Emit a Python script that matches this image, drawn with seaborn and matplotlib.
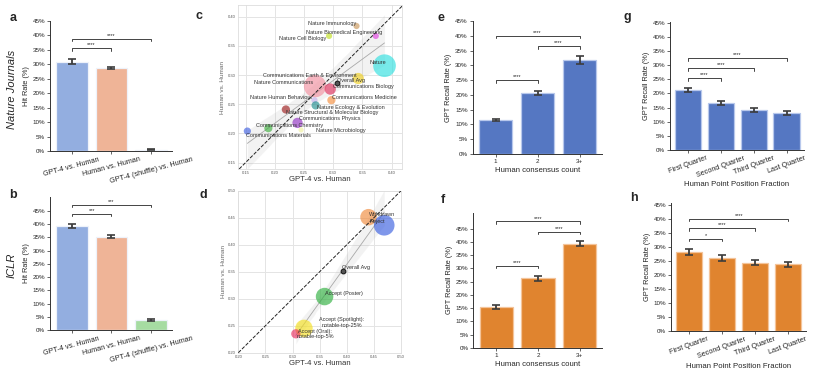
import numpy as np
import pandas as pd
import matplotlib
matplotlib.use("Agg")
import matplotlib.pyplot as plt
from matplotlib.ticker import FuncFormatter, MultipleLocator
import seaborn as sns

# ---------------- data ----------------
hit_cats = ["GPT-4 vs. Human", "Human vs. Human", "GPT-4 (shuffle) vs. Human"]
nature_hit = [30.9, 28.7, 0.4]
nature_hit_err = [0.7, 0.4, 0.2]
iclr_hit = [39.3, 35.3, 3.9]
iclr_hit_err = [0.9, 0.5, 0.4]

journals = ["Nature Immunology", "Nature Biomedical Engineering", "Nature Cell Biology",
            "Nature", "Communications Earth & Environment", "Nature Communications",
            "Communications Biology", "Communications Medicine", "Nature Human Behaviour",
            "Nature Ecology & Evolution", "Nature Structural & Molecular Biology",
            "Communications Physics", "Communications Chemistry", "Nature Microbiology",
            "Communications Materials"]
journal_gpt = [0.340, 0.373, 0.293, 0.388, 0.343, 0.269, 0.295, 0.297, 0.268,
               0.270, 0.219, 0.239, 0.189, 0.245, 0.153]
journal_human = [0.384, 0.367, 0.367, 0.316, 0.294, 0.281, 0.276, 0.257, 0.257,
                 0.248, 0.241, 0.218, 0.209, 0.206, 0.204]
journal_n = [36, 36, 36, 484, 121, 470, 121, 64, 36, 64, 64, 100, 64, 25, 49]
journal_label_x = [0.298, 0.319, 0.248, 0.376, 0.260, 0.215, 0.352, 0.354, 0.211,
                   0.330, 0.299, 0.294, 0.226, 0.313, 0.206]
journal_label_y = [0.389, 0.373, 0.362, 0.322, 0.300, 0.288, 0.280, 0.261, 0.262,
                   0.244, 0.236, 0.225, 0.214, 0.205, 0.197]
journal_colors = ["#C8965A", "#E040E0", "#C0E020", "#30E0E0", "#F0D020", "#F290A0",
                  "#E0305E", "#F59040", "#C8B4F0", "#209090", "#A02020", "#9030C0",
                  "#40B040", "#F0F0A0", "#4060E0"]
nature_avg = (0.306, 0.286)

decisions = ["Withdrawn", "Reject", "Accept (Poster)",
             "Accept (Spotlight):\nnotable-top-25%", "Accept (Oral):\nnotable-top-5%"]
decision_gpt = [0.440, 0.469, 0.359, 0.321, 0.306]
decision_human = [0.451, 0.436, 0.304, 0.245, 0.235]
decision_n = [256, 400, 289, 289, 81]
decision_label_x = [0.465, 0.456, 0.395, 0.391, 0.342]
decision_label_y = [0.456, 0.443, 0.309, 0.256, 0.235]
decision_colors = ["#F08A3C", "#3A5FE0", "#30B040", "#F5E020", "#E83060"]
iclr_avg = (0.393, 0.352)

consensus = ["1", "2", "3+"]
nature_consensus = [11.4, 20.6, 31.7]
nature_consensus_err = [0.4, 0.8, 1.3]
iclr_consensus = [15.4, 26.2, 39.3]
iclr_consensus_err = [0.7, 1.0, 1.0]

quarters = ["First Quarter", "Second Quarter", "Third Quarter", "Last Quarter"]
nature_quarter = [21.2, 16.7, 14.1, 13.2]
nature_quarter_err = [0.8, 0.7, 0.6, 0.7]
iclr_quarter = [28.2, 26.2, 24.4, 23.9]
iclr_quarter_err = [1.1, 1.1, 1.0, 0.9]

# ---------------- style ----------------
sns.set_theme(style="ticks")
plt.rcParams["font.family"] = ["Liberation Sans", "DejaVu Sans"]

fig = plt.figure(figsize=(8.31, 3.73), dpi=100)

def add_ax(l, r, b, t):
    return fig.add_axes([l, b, r - l, t - b])

pct = FuncFormatter(lambda v, p: f"{v:.0f}%")
ERR = "#3c3c3c"

def bar_panel(ax, cats, vals, errs, colors, ylim, edge, xlab=None, ylab="", rot=0, width=0.8):
    df = pd.DataFrame({"cat": cats, "val": vals})
    sns.barplot(data=df, x="cat", y="val", hue="cat", palette=colors, legend=False,
                ax=ax, width=width, edgecolor=edge, linewidth=0.9, errorbar=None,
                saturation=1)
    ax.errorbar(np.arange(len(cats)), vals, yerr=errs, fmt="none", ecolor=ERR,
                elinewidth=1.3, capsize=2.6, capthick=1.2, zorder=5)
    ax.set_ylim(*ylim)
    ax.set_xlim(-0.55, len(cats) - 0.47)
    ax.set_yticks(np.arange(0, 46, 5))
    ax.yaxis.set_major_formatter(pct)
    ax.set_ylabel(ylab, fontsize=5.3, labelpad=2)
    ax.set_xlabel(xlab if xlab else "", fontsize=5.6, labelpad=2)
    ax.tick_params(axis="both", labelsize=4.5, length=2, width=0.5, pad=1.5)
    if rot:
        for t in ax.get_xticklabels():
            t.set_rotation(rot)
            t.set_ha("center")
        ax.tick_params(axis="x", labelsize=5.2)
    sns.despine(ax=ax)
    for s in ["left", "bottom"]:
        ax.spines[s].set_linewidth(0.7)
        ax.spines[s].set_color("#333333")

def bracket(ax, i, j, y, text, h=0.9):
    ax.plot([i, i, j, j], [y - h, y, y, y - h], color="#444444", lw=0.7)
    ax.text((i + j) / 2, y + 0.3, text, ha="center", va="bottom", fontsize=4, color="#222222")

# ---- a ----
ax_a = add_ax(0.0602, 0.207, 0.5952, 0.9445)
bar_panel(ax_a, hit_cats, nature_hit, nature_hit_err,
          ["#93AEE0", "#EFB497", "#A6DCA2"], (0, 45), "#EEF2FA", ylab="Hit Rate (%)", rot=15)
bracket(ax_a, 0, 1, 35.6, "****")
bracket(ax_a, 0, 2, 38.8, "****")

# ---- b ----
ax_b = add_ax(0.0602, 0.207, 0.1153, 0.4718)
bar_panel(ax_b, hit_cats, iclr_hit, iclr_hit_err,
          ["#93AEE0", "#EFB497", "#A6DCA2"], (0, 50.3), "#EEF2FA", ylab="Hit Rate (%)", rot=15)
bracket(ax_b, 0, 1, 43.9, "***")
bracket(ax_b, 0, 2, 47.3, "***")

fig.text(0.014, 0.761, "Nature Journals", rotation=90, style="italic", fontsize=8,
         ha="center", va="center")
fig.text(0.014, 0.2895, "ICLR", rotation=90, style="italic", fontsize=8,
         ha="center", va="center")

# ---- scatter helper ----
K = 0.55

def scatter_panel(ax, xs, ys, ns, colors, lab_x, lab_y, labels, avg, xlim, ylim, ticks):
    ax.set_facecolor("white")
    ax.grid(True, color="#E4E4E4", lw=0.7)
    ax.set_axisbelow(True)
    for s in ax.spines.values():
        s.set_color("#DDDDDD")
        s.set_linewidth(0.6)
    df = pd.DataFrame({"x": xs, "y": ys, "n": ns, "name": labels})
    sns.regplot(data=df, x="x", y="y", scatter=False, ax=ax, color="#AAAAAA",
                line_kws=dict(lw=0.6, color="#A8A8A8"), ci=95)
    sns.scatterplot(data=df, x="x", y="y", hue="name", palette=colors, size="n",
                    sizes=(min(ns) * K, max(ns) * K), size_norm=(min(ns), max(ns)),
                    alpha=0.65, linewidth=0, legend=False, ax=ax, zorder=3)
    ax.axline((xlim[0], xlim[0]), slope=1, color="#222222", ls="--", lw=0.7, zorder=4)
    ax.scatter([avg[0]], [avg[1]], s=12, color="#555555", edgecolor="#111111",
               linewidth=0.7, zorder=6)
    ax.text(avg[0] + 0.024, avg[1] + 0.005, "Overall Avg", fontsize=4, color="#333333",
            ha="center", va="center", zorder=7)
    for tx, ty, t in zip(lab_x, lab_y, labels):
        ax.text(tx, ty, t, fontsize=4, color="#333333", ha="center", va="center",
                zorder=7, linespacing=1.1)
    ax.set_xlim(*xlim)
    ax.set_ylim(*ylim)
    ax.set_xticks(ticks[0])
    ax.set_yticks(ticks[1])
    ax.xaxis.set_major_formatter(FuncFormatter(lambda v, p: f"{v:.2f}"))
    ax.yaxis.set_major_formatter(FuncFormatter(lambda v, p: f"{v:.2f}"))
    ax.tick_params(axis="both", labelsize=3, length=0, pad=1.5, colors="#555555")
    ax.set_xlabel("GPT-4 vs. Human", fontsize=5.6, labelpad=1, color="#333333")
    ax.set_ylabel("Human vs. Human", fontsize=4.6, labelpad=2, color="#666666")

ax_c = add_ax(0.2864, 0.4838, 0.5469, 0.9866)
scatter_panel(ax_c, journal_gpt, journal_human, journal_n, journal_colors,
              journal_label_x, journal_label_y, journals, nature_avg,
              (0.137, 0.418), (0.139, 0.42),
              (np.arange(0.15, 0.41, 0.05), np.arange(0.15, 0.41, 0.05)))

ax_d = add_ax(0.2868, 0.4826, 0.0544, 0.4887)
scatter_panel(ax_d, decision_gpt, decision_human, decision_n, decision_colors,
              decision_label_x, decision_label_y, decisions, iclr_avg,
              (0.20, 0.50), (0.20, 0.50),
              (np.arange(0.20, 0.51, 0.05), np.arange(0.20, 0.51, 0.05)))

# ---- e ----
BLUE = "#5577C2"
ORANGE = "#E0842F"
ax_e = add_ax(0.5688, 0.7241, 0.5871, 0.9437)
bar_panel(ax_e, consensus, nature_consensus, nature_consensus_err, [BLUE] * 3, (0, 45),
          "#B8C8EC", xlab="Human consensus count", ylab="GPT Recall Rate (%)")
bracket(ax_e, 0, 1, 25.0, "****")
bracket(ax_e, 1, 2, 36.5, "****")
bracket(ax_e, 0, 2, 40.0, "****")

# ---- f ----
ax_f = add_ax(0.5696, 0.7241, 0.0670, 0.4298)
bar_panel(ax_f, consensus, iclr_consensus, iclr_consensus_err, [ORANGE] * 3, (0, 51),
          "#F4C49A", xlab="Human consensus count", ylab="GPT Recall Rate (%)")
bracket(ax_f, 0, 1, 31.0, "****")
bracket(ax_f, 1, 2, 43.9, "****")
bracket(ax_f, 0, 2, 47.7, "****")

# ---- g ----
ax_g = add_ax(0.8063, 0.9675, 0.5987, 0.9402)
bar_panel(ax_g, quarters, nature_quarter, nature_quarter_err, [BLUE] * 4, (0, 45.3),
          "#B8C8EC", xlab="Human Point Position Fraction", ylab="GPT Recall Rate (%)", rot=20)
bracket(ax_g, 0, 1, 25.4, "****")
bracket(ax_g, 0, 2, 29.0, "****")
bracket(ax_g, 0, 3, 32.5, "****")

# ---- h ----
ax_h = add_ax(0.8075, 0.9695, 0.1126, 0.4558)
bar_panel(ax_h, quarters, iclr_quarter, iclr_quarter_err, [ORANGE] * 4, (0, 45.7),
          "#F4C49A", xlab="Human Point Position Fraction", ylab="GPT Recall Rate (%)", rot=20)
bracket(ax_h, 0, 1, 32.9, "*")
bracket(ax_h, 0, 2, 36.7, "****")
bracket(ax_h, 0, 3, 40.1, "****")

# panel letters
for lx, ly, l in [(0.011, 0.953, "a"), (0.011, 0.476, "b"), (0.235, 0.957, "c"),
                  (0.240, 0.476, "d"), (0.526, 0.953, "e"), (0.530, 0.463, "f"),
                  (0.750, 0.955, "g"), (0.758, 0.468, "h")]:
    fig.text(lx, ly, l, fontsize=9, fontweight="bold", ha="left", va="center")

fig.savefig("out.png", dpi=100)
